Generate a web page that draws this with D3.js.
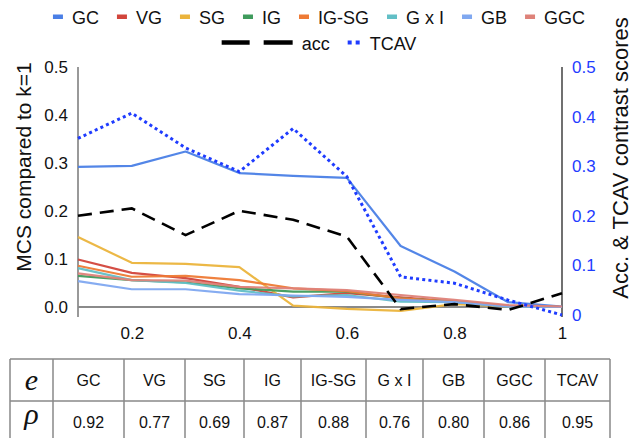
<!DOCTYPE html>
<html>
<head>
<meta charset="utf-8">
<script src="https://cdn.jsdelivr.net/npm/d3@7"></script>
<style>
  html, body { margin: 0; padding: 0; background: #fff; }
  svg { display: block; }
  text { font-family: "Liberation Sans", Arial, Helvetica, sans-serif; }
</style>
</head>
<body>
<svg id="chart" width="638" height="438"></svg>
<script>
// ---------- data ----------
const xValues = [0.1, 0.2, 0.3, 0.4, 0.5, 0.6, 0.7, 0.8, 0.9, 1.0];
const xTickValues = [0.2, 0.4, 0.6, 0.8, 1];
const leftTickValues = [0, 0.1, 0.2, 0.3, 0.4, 0.5];
const rightTickValues = [0, 0.1, 0.2, 0.3, 0.4, 0.5];

const methodNames = ["GC", "VG", "SG", "IG", "IG-SG", "G x I", "GB", "GGC"];
const GC   = [0.292, 0.294, 0.324, 0.279, 0.273, 0.269, 0.127, 0.074, 0.010, 0.001];
const VG   = [0.099, 0.071, 0.060, 0.042, 0.020, 0.029, 0.020, 0.011, 0.002, 0.000];
const SG   = [0.146, 0.092, 0.090, 0.083, 0.003, -0.004, -0.008, 0.006, 0.001, 0.000];
const IG   = [0.065, 0.056, 0.051, 0.039, 0.032, 0.032, 0.018, 0.011, 0.001, 0.000];
const IGSG = [0.086, 0.063, 0.065, 0.056, 0.039, 0.033, 0.018, 0.011, 0.002, 0.000];
const GxI  = [0.081, 0.056, 0.050, 0.034, 0.022, 0.025, 0.011, 0.010, 0.001, 0.000];
const GB   = [0.054, 0.037, 0.037, 0.027, 0.024, 0.021, 0.015, 0.010, 0.001, 0.000];
const GGC  = [0.070, 0.056, 0.055, 0.042, 0.039, 0.035, 0.025, 0.015, 0.004, 0.001];
const acc  = [0.200, 0.215, 0.161, 0.210, 0.192, 0.158, 0.012, 0.022, 0.010, 0.044];
const TCAV = [0.356, 0.407, 0.337, 0.289, 0.376, 0.279, 0.077, 0.064, 0.030, 0.000];

const tableHeader = ["GC", "VG", "SG", "IG", "IG-SG", "G x I", "GB", "GGC", "TCAV"];
const tableRho    = ["0.92", "0.77", "0.69", "0.87", "0.88", "0.76", "0.80", "0.86", "0.95"];

// ---------- styles ----------
const methodSeries = [GC, VG, SG, IG, IGSG, GxI, GB, GGC];
const methodColors = ["#4a7fe6", "#d2453b", "#ebb43c", "#3f9b5c", "#ee7a35", "#62bfc6", "#80a8f0", "#de8279"];
const tcavColor = "#1f3cff";

const svg = d3.select("#chart");
const x  = d3.scaleLinear().domain([0.1, 1]).range([78, 562]);
const yL = d3.scaleLinear().domain([0, 0.5]).range([307, 67]);
const yR = d3.scaleLinear().domain([0, 0.5]).range([315, 67]);

// axes lines
svg.append("line").attr("x1", x(0.1)).attr("x2", x(0.1)).attr("y1", yL(0.5)).attr("y2", 317)
  .attr("stroke", "#777").attr("stroke-width", 1.5);
svg.append("line").attr("x1", x(0.1)).attr("x2", x(1)).attr("y1", yL(0)).attr("y2", yL(0))
  .attr("stroke", "#8a8a8a").attr("stroke-width", 2);
svg.append("line").attr("x1", x(1)).attr("x2", x(1)).attr("y1", yR(0.5)).attr("y2", 317)
  .attr("stroke", "#111").attr("stroke-width", 1.2);

// left axis labels
const gL = svg.append("g").attr("transform", `translate(${x(0.1)},0)`)
  .call(d3.axisLeft(yL).tickValues(leftTickValues).tickSize(0).tickPadding(10).tickFormat(d3.format(".1f")));
gL.select(".domain").remove();
gL.selectAll("text").attr("font-size", 17).attr("fill", "#111")
  .style("font-family", '"Liberation Sans", Arial, sans-serif');

// right axis labels
const gR = svg.append("g").attr("transform", `translate(${x(1)},0)`)
  .call(d3.axisRight(yR).tickValues(rightTickValues).tickSize(0).tickPadding(10)
    .tickFormat(d => d === 0 ? "0" : d3.format(".1f")(d)));
gR.select(".domain").remove();
gR.selectAll("text").attr("font-size", 17).attr("fill", tcavColor)
  .style("font-family", '"Liberation Sans", Arial, sans-serif');

// x axis labels
const gX = svg.append("g").attr("transform", `translate(0,${yL(0)})`)
  .call(d3.axisBottom(x).tickValues(xTickValues).tickSize(0).tickPadding(20)
    .tickFormat(d => d === 1 ? "1" : d3.format(".1f")(d)));
gX.select(".domain").remove();
gX.selectAll("text").attr("font-size", 17).attr("fill", "#111")
  .style("font-family", '"Liberation Sans", Arial, sans-serif');

// axis titles
svg.append("text").attr("transform", `translate(31,167) rotate(-90)`)
  .attr("text-anchor", "middle").attr("font-size", 21).attr("fill", "#111")
  .text("MCS compared to k=1");
svg.append("text").attr("transform", `translate(628,158) rotate(-90)`)
  .attr("text-anchor", "middle").attr("font-size", 22).attr("fill", "#111")
  .text("Acc. & TCAV contrast scores");

// lines
const lineL = d3.line().x((d, i) => x(xValues[i])).y(d => yL(d));
const lineR = d3.line().x((d, i) => x(xValues[i])).y(d => yR(d));

methodSeries.forEach((s, k) => {
  svg.append("path").datum(s).attr("d", lineL).attr("fill", "none")
    .attr("stroke", methodColors[k]).attr("stroke-width", 2.2)
    .attr("stroke-linejoin", "round").attr("opacity", 0.95);
});
svg.append("path").datum(acc).attr("d", lineR).attr("fill", "none")
  .attr("stroke", "#000").attr("stroke-width", 2.6).attr("stroke-dasharray", "14,8");
svg.append("path").datum(TCAV).attr("d", lineR).attr("fill", "none")
  .attr("stroke", tcavColor).attr("stroke-width", 3).attr("stroke-dasharray", "3,3.2");

// legend
const leg1 = svg.append("g");
let cx = 0;
methodNames.forEach((name, k) => {
  const g = leg1.append("g");
  g.append("rect").attr("x", cx).attr("y", 14.5).attr("width", 10).attr("height", 4.5).attr("fill", methodColors[k]);
  const t = g.append("text").attr("x", cx + 19).attr("y", 23.5).attr("font-size", 18).attr("fill", "#111").text(name);
  cx += 19 + t.node().getComputedTextLength() + 18;
});
const w1 = cx - 18;
leg1.attr("transform", `translate(${(638 - w1) / 2},0)`);

const leg2 = svg.append("g");
let cx2 = 0;
leg2.append("line").attr("x1", 0).attr("x2", 28).attr("y1", 42.5).attr("y2", 42.5).attr("stroke", "#000").attr("stroke-width", 4.5);
leg2.append("line").attr("x1", 42).attr("x2", 71).attr("y1", 42.5).attr("y2", 42.5).attr("stroke", "#000").attr("stroke-width", 4.5);
const tAcc = leg2.append("text").attr("x", 80).attr("y", 49.5).attr("font-size", 18).attr("fill", "#111").text("acc");
cx2 = 80 + tAcc.node().getComputedTextLength() + 18;
leg2.append("rect").attr("x", cx2).attr("y", 40.5).attr("width", 4).attr("height", 4).attr("fill", tcavColor);
leg2.append("rect").attr("x", cx2 + 8).attr("y", 40.5).attr("width", 4).attr("height", 4).attr("fill", tcavColor);
const tT = leg2.append("text").attr("x", cx2 + 22).attr("y", 49.5).attr("font-size", 18).attr("fill", "#111").text("TCAV");
const w2 = cx2 + 22 + tT.node().getComputedTextLength();
leg2.attr("transform", `translate(${(638 - w2) / 2},0)`);

// table
const colEdges = [10, 53, 124, 185, 244, 301, 366, 423, 484, 545, 610];
const rowEdges = [359, 401, 443];
const tg = svg.append("g");
rowEdges.forEach(yv => tg.append("line").attr("x1", colEdges[0]).attr("x2", colEdges[colEdges.length - 1])
  .attr("y1", yv).attr("y2", yv).attr("stroke", "#888").attr("stroke-width", 1.5));
colEdges.forEach(xv => tg.append("line").attr("x1", xv).attr("x2", xv)
  .attr("y1", rowEdges[0]).attr("y2", rowEdges[2]).attr("stroke", "#888").attr("stroke-width", 1.5));
const rowMid = [(rowEdges[0] + rowEdges[1]) / 2, (rowEdges[1] + rowEdges[2]) / 2];
tg.append("text").attr("x", (colEdges[0] + colEdges[1]) / 2).attr("y", 390)
  .attr("text-anchor", "middle").attr("font-size", 30).attr("font-style", "italic")
  .style("font-family", '"Liberation Serif", "Times New Roman", serif').attr("fill", "#111").text("e");
tg.append("text").attr("x", (colEdges[0] + colEdges[1]) / 2).attr("y", 424)
  .attr("text-anchor", "middle").attr("font-size", 30).attr("font-style", "italic")
  .style("font-family", '"Liberation Serif", "Times New Roman", serif').attr("fill", "#111").text("ρ");
tableHeader.forEach((h, i) => {
  const cxm = (colEdges[i + 1] + colEdges[i + 2]) / 2;
  tg.append("text").attr("x", cxm).attr("y", rowMid[0] + 6).attr("text-anchor", "middle")
    .attr("font-size", 16).attr("fill", "#111").text(h);
  tg.append("text").attr("x", cxm).attr("y", 427.5).attr("text-anchor", "middle")
    .attr("font-size", 16).attr("fill", "#111").text(tableRho[i]);
});
</script>
</body>
</html>
